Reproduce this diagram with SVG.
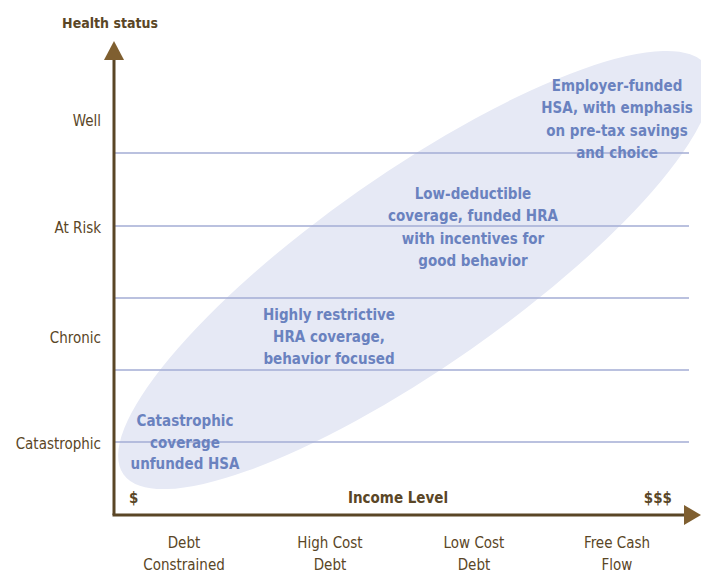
<svg xmlns="http://www.w3.org/2000/svg" width="701" height="575" viewBox="0 0 701 575">
  <defs>
    <style>
      text { font-family: "Liberation Sans Narrow", "DejaVu Sans Condensed", "Liberation Sans", sans-serif; font-size: 15px; }
      .axis-title { font-weight: bold; fill: #5a4626; }
      .tick { fill: #5a4626; }
      .tier { font-weight: bold; fill: #6a82bf; text-anchor: middle; }
      .grid { stroke: #a3acd4; stroke-width: 1.5; }
      .axis { stroke: #5a4626; stroke-width: 3; fill: none; }
    </style>
  </defs>

  <rect width="701" height="575" fill="#ffffff"/>

  <!-- coverage band -->
  <ellipse cx="415" cy="270" rx="356" ry="97" transform="rotate(-35 415 270)" fill="#e6e9f5"/>

  <!-- health status bands -->
  <g id="grid">
    <line class="grid" x1="114" y1="153" x2="689" y2="153"/>
    <line class="grid" x1="114" y1="226" x2="689" y2="226"/>
    <line class="grid" x1="114" y1="298" x2="689" y2="298"/>
    <line class="grid" x1="114" y1="370" x2="689" y2="370"/>
    <line class="grid" x1="114" y1="442" x2="689" y2="442"/>
  </g>

  <!-- axes -->
  <g id="connectors">
    <path class="axis" d="M114,515 L114,60"/>
    <path d="M104,60 L114,41 L124,60 Z" fill="#7f5f30"/>
    <path class="axis" d="M112.5,515 L684,515"/>
    <path d="M684,505 L701,515 L684,525 Z" fill="#7f5f30"/>
  </g>

  <g id="y-axis-labels">
    <text class="axis-title" x="110" y="28" text-anchor="middle" style="font-size:14px">Health status</text>
    <text class="tick" x="101" y="126" text-anchor="end">Well</text>
    <text class="tick" x="101" y="233" text-anchor="end">At Risk</text>
    <text class="tick" x="101" y="343" text-anchor="end">Chronic</text>
    <text class="tick" x="101" y="449" text-anchor="end">Catastrophic</text>
  </g>

  <g id="x-axis-labels">
    <text class="axis-title" x="129" y="503">$</text>
    <text class="axis-title" x="398" y="503" text-anchor="middle">Income Level</text>
    <text class="axis-title" x="672" y="503" text-anchor="end">$$$</text>
    <text class="tick" text-anchor="middle"><tspan x="184" y="548">Debt</tspan><tspan x="184" y="570">Constrained</tspan></text>
    <text class="tick" text-anchor="middle"><tspan x="330" y="548">High Cost</tspan><tspan x="330" y="570">Debt</tspan></text>
    <text class="tick" text-anchor="middle"><tspan x="474" y="548">Low Cost</tspan><tspan x="474" y="570">Debt</tspan></text>
    <text class="tick" text-anchor="middle"><tspan x="617" y="548">Free Cash</tspan><tspan x="617" y="570">Flow</tspan></text>
  </g>

  <g id="tier-catastrophic">
    <text class="tier"><tspan x="185" y="426">Catastrophic</tspan><tspan x="185" y="448">coverage</tspan><tspan x="185" y="469">unfunded HSA</tspan></text>
  </g>
  <g id="tier-chronic">
    <text class="tier"><tspan x="329" y="320">Highly restrictive</tspan><tspan x="329" y="342">HRA coverage,</tspan><tspan x="329" y="364">behavior focused</tspan></text>
  </g>
  <g id="tier-at-risk">
    <text class="tier"><tspan x="473" y="199">Low-deductible</tspan><tspan x="473" y="221">coverage, funded HRA</tspan><tspan x="473" y="244">with incentives for</tspan><tspan x="473" y="266">good behavior</tspan></text>
  </g>
  <g id="tier-well">
    <text class="tier"><tspan x="617" y="91">Employer-funded</tspan><tspan x="617" y="113">HSA, with emphasis</tspan><tspan x="617" y="136">on pre-tax savings</tspan><tspan x="617" y="158">and choice</tspan></text>
  </g>
</svg>
